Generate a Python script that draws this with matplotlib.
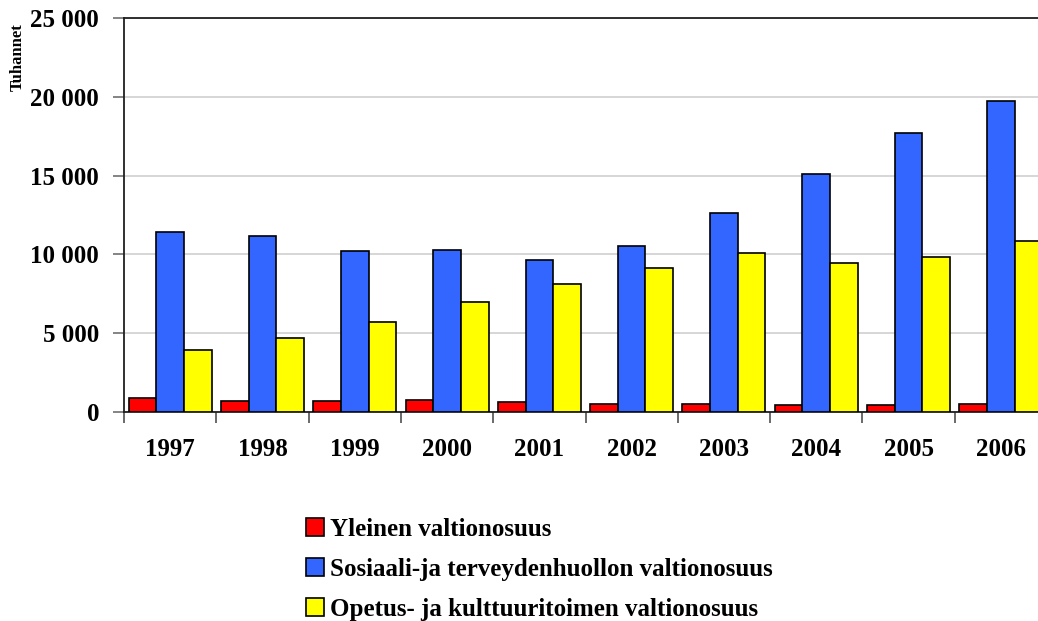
import matplotlib
matplotlib.use("Agg")
import matplotlib.pyplot as plt
from matplotlib.ticker import FuncFormatter, MultipleLocator, FixedLocator
from matplotlib.patches import Patch
import numpy as np

years = ["1997", "1998", "1999", "2000", "2001", "2002", "2003", "2004", "2005", "2006"]
yleinen = [900, 720, 720, 760, 630, 500, 500, 440, 440, 500]
sosiaali = [11420, 11170, 10220, 10280, 9660, 10530, 12630, 15080, 17710, 19730]
opetus = [3930, 4700, 5710, 6980, 8120, 9140, 10090, 9430, 9830, 10830]
series_labels = ["Yleinen valtionosuus",
                 "Sosiaali-ja terveydenhuollon valtionosuus",
                 "Opetus- ja kulttuuritoimen valtionosuus"]
colors = ["#ff0000", "#3366ff", "#ffff00"]

plt.rcParams['font.family'] = ['Liberation Serif', 'DejaVu Serif']
plt.rcParams['font.weight'] = 'bold'

fig = plt.figure(figsize=(10.38, 6.21), dpi=100)
ax = fig.add_axes([124/1038, 1-412/621, 923/1038, 394/621])

x = np.arange(len(years))
w = 0.3
for k, (vals, col, lab) in enumerate(zip([yleinen, sosiaali, opetus], colors, series_labels)):
    ax.bar(x + (k-1)*w, vals, width=w, color=col, edgecolor='black', linewidth=1.2,
           label=lab, zorder=3)

ax.set_xlim(-0.5, len(years)-0.5)
ax.set_ylim(0, 25000)
ax.yaxis.set_major_locator(MultipleLocator(5000))
ax.yaxis.set_major_formatter(FuncFormatter(lambda v, p: f"{int(v):,}".replace(",", " ")))
ax.grid(axis='y', color='#d0d0d0', linewidth=1.2, zorder=0)
ax.set_axisbelow(True)

ax.set_xticks(x)
ax.set_xticklabels(years)
ax.xaxis.set_minor_locator(FixedLocator(np.arange(-0.5, len(years), 1.0)))
ax.tick_params(axis='x', which='major', length=0, pad=19, labelsize=18)
ax.tick_params(axis='x', which='minor', length=8, width=1.2, direction='out', color='#505050')
ax.tick_params(axis='y', which='major', length=8, width=1.2, direction='out', pad=10,
               labelsize=18, color='#707070')
for lbl in ax.get_xticklabels() + ax.get_yticklabels():
    lbl.set_fontweight('bold')

ax.spines['right'].set_visible(False)
for s in ['left', 'bottom', 'top']:
    ax.spines[s].set_linewidth(1.3)
    ax.spines[s].set_color('#202020')

fig.text(18/1038, 1-57/621, "Tuhannet", rotation=90, ha='center', va='center',
         fontsize=12, fontweight='bold')

handles = [Patch(facecolor=c, edgecolor='black', linewidth=1.2) for c in colors]
fig.legend(handles, series_labels, loc='upper left', bbox_to_anchor=(296/1038, 1-508/621),
           frameon=False, prop={'family': 'Liberation Serif', 'weight': 'bold', 'size': 18},
           handlelength=0.72, handleheight=0.72, handletextpad=0.25, labelspacing=0.68,
           borderaxespad=0)

fig.savefig("out.png", dpi=100)
